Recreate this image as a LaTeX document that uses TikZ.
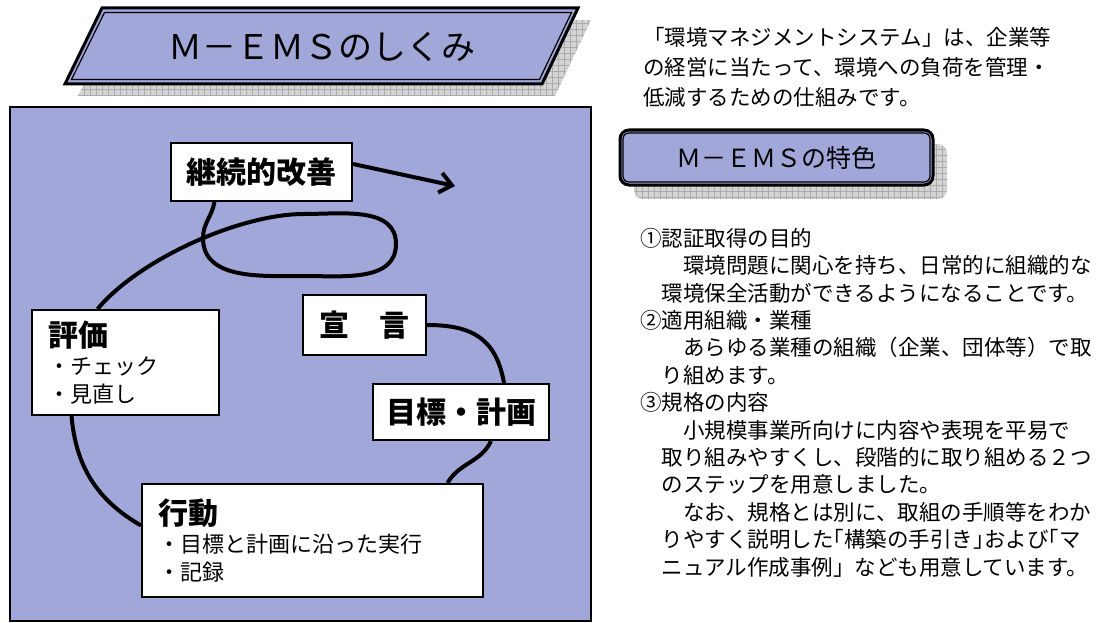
\documentclass[tikz,border=0pt]{standalone}
\usepackage{fontspec}
\setmainfont{Noto Sans CJK JP}
\usetikzlibrary{arrows.meta,positioning,calc,patterns.meta}
\definecolor{lavender}{HTML}{A1A7D9}
\definecolor{shadegray}{HTML}{D4D4D4}
\definecolor{gridgray}{HTML}{ABABAB}
\newcommand{\jphead}{\fontsize{30}{32}\selectfont\bfseries}
\newcommand{\jpitem}{\fontsize{22}{28}\selectfont}
\newcommand{\jptext}{\fontsize{21.5}{27.4}\selectfont}
\newcommand{\hw}[1]{{\addfontfeatures{RawFeature=+halt}#1}}
\tikzset{
  stepbox/.style={draw=black,line width=2pt,fill=white,inner sep=0pt,font=\jphead},
  listbox/.style={stepbox,align=left,inner xsep=16pt,font=\jpitem},
  flow/.style={line width=4pt,black},
  gridshadow/.style={fill=shadegray,
    postaction={pattern={Hatch[distance=6pt,line width=0.6pt]},pattern color=gridgray}}
}

\begin{document}
\begin{tikzpicture}[x=1pt,y=-1pt]
  \useasboundingbox (0,0) rectangle (1102,623);
  % left panel
  \draw[line width=2.5pt,fill=lavender] (10,107) rectangle (591,621);
  % title banner
  \fill[gridshadow] (115,20) -- (591,20) -- (555,96) -- (78,96) -- cycle;
  \draw[line width=3pt,fill=lavender] (102,8) -- (578,8) -- (542,84) -- (65,84) -- cycle;
  \draw[line width=1.2pt] (104.5,12.5) -- (571.5,12.5) -- (539.5,79.5) -- (71.5,79.5) -- cycle;
  \node[font={\fontsize{34}{34}\selectfont}] (title) at (322,47) {Ｍ－ＥＭＳのしくみ};

  % intro text
  \node[anchor=north west,inner sep=0pt,align=left,font={\fontsize{21.5}{30}\selectfont}]
    (intro) at (643,27)
    {「環境マネジメントシステム」は、企業等\\
     の経営に当たって、環境への負荷を管理・\\
     低減するための仕組みです。};

  % feature heading
  \fill[gridshadow,rounded corners=9pt] (634,144) rectangle (947,199);
  \node[draw,line width=3pt,fill=lavender,rounded corners=9pt,
        minimum width=313pt,minimum height=55pt,font={\fontsize{25}{25}\selectfont}]
    (feat) at (776.5,157.5) {Ｍ－ＥＭＳの特色};
  \draw[line width=1.2pt,rounded corners=6pt]
    ([shift={(4.5pt,-4.5pt)}]feat.north west) rectangle ([shift={(-4.5pt,4.5pt)}]feat.south east);

  % feature list
  \node[anchor=north west,inner sep=0pt,align=left,font=\jptext] (featlist) at (640,228)
    {①認証取得の目的\\
     　　環境問題に関心を持ち、日常的に組織的な\\
     　環境保全活動ができるようになることです。\\
     ②適用組織・業種\\
     　　あらゆる業種の組織（企業、団体等）で取\\
     　り組めます。\\
     ③規格の内容\\
     　　小規模事業所向けに内容や表現を平易で\\
     　取り組みやすくし、段階的に取り組める２つ\\
     　のステップを用意しました。\\
     　　なお、規格とは別に、取組の手順等をわか\\
     　りやすく説明した\hw{「}構築の手引き\hw{」}および\hw{「}マ\\
     　ニュアル作成事例」なども用意しています。};

  % cycle boxes
  \node[stepbox,minimum width=181pt,minimum height=58pt] (kaizen) at (261.5,172) {継続的改善};
  \node[stepbox,minimum width=123pt,minimum height=60pt] (sengen) at (364.5,325) {宣　言};
  \node[stepbox,minimum width=176pt,minimum height=56pt] (mokuhyo) at (461,412) {目標・計画};
  \node[listbox,text width=155pt,minimum height=105pt] (hyouka) at (125.5,362.5)
    {{\jphead 評価}\\・チェック\\・見直し};
  \node[listbox,text width=309pt,minimum height=113pt] (koudou) at (312.5,540.5)
    {{\jphead 行動}\\・目標と計画に沿った実行\\・記録};

  % connectors
  \coordinate (nextcycle) at (455,186);
  \draw[flow] (sengen.east) to[out=0,in=100,looseness=1.2] ([xshift=43pt]mokuhyo.north);
  \draw[flow] ([xshift=30pt]mokuhyo.south) to[out=-115,in=60] ([xshift=135pt]koudou.north);
  \draw[flow] ([yshift=15pt]koudou.west) to[out=150,in=-85] ([xshift=-54pt]hyouka.south);
  \draw[flow] ([xshift=-28pt]hyouka.north) .. controls +(42,-50) and +(-64,0) .. (304,214)
    to[out=0,in=90] (396,244) to[out=-90,in=0] (304,276) to[out=180,in=-90] (203,238)
    to[out=90,in=-100] ([xshift=-47pt]kaizen.south);
  \draw[flow,-{Straight Barb[length=12pt,width=20pt]}] ([yshift=8pt]kaizen.east) -- (nextcycle);
\end{tikzpicture}
\end{document}
